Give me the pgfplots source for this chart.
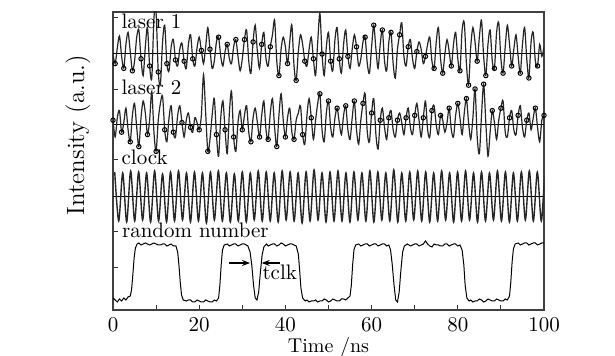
\documentclass[border=0pt]{standalone}
\usepackage{pgfplots}
\pgfplotsset{compat=1.18}
\usetikzlibrary{arrows.meta}
\newcommand{\fs}{\fontsize{10.5}{12.6}\selectfont}
\begin{document}
\begin{tikzpicture}
\useasboundingbox (-56.5pt,-23pt) rectangle (251pt,155pt);
\begin{axis}[
  scale only axis, width=215.5pt, height=149pt,
  xmin=0, xmax=100, ymin=0, ymax=298,
  axis line style={black!75, line width=0.8pt},
  tick align=inside, tick pos=left,
  xtick={0,20,...,100}, minor xtick={10,30,...,90},
  ytick={42,78,150,220,292}, yticklabels={},
  major tick length=2.5pt, minor tick length=2.5pt,
  tick style={black!80, line width=0.5pt},
  /pgf/number format/assume math mode=true,
  tick label style={font=\fs},
  xlabel={Time /ns}, ylabel={Intensity (a.u.)},
  xlabel style={font=\fontsize{10}{12}\selectfont, at={(axis description cs:0.5,-0.068)}, anchor=north},
  ylabel style={font=\fontsize{12.5}{15}\selectfont, at={(axis description cs:-0.036,0.587)}, anchor=south},
  clip=true,
]
% baselines
\addplot[black, line width=0.5pt] coordinates {(0,256)(100,256)};
\addplot[black, line width=0.5pt] coordinates {(0,185)(100,185)};
\addplot[black, line width=0.5pt] coordinates {(0,113)(100,113)};
% laser 1
\addplot[black!85, line width=0.6pt, smooth, mark=o, mark size=1.1pt, mark repeat=4, mark phase=2,
  mark options={black, line width=0.5pt, fill=white}]
  table[header=false, row sep=\\, x expr=\coordindex*0.5, y expr=1.2*\thisrowno{0}+256] {
0\\ -8\\ 5\\ 15\\ -2\\ -12\\ 8\\ 18\\ 2\\ -14\\
-6\\ 14\\ 20\\ -4\\ -18\\ 6\\ 22\\ -10\\ -20\\ 30\\
34\\ -15\\ -25\\ 10\\ 24\\ -8\\ -14\\ 6\\ 12\\ -5\\
-10\\ 4\\ 9\\ -6\\ -12\\ 8\\ 16\\ -4\\ -10\\ 5\\
14\\ 3\\ -8\\ 6\\ 22\\ 4\\ -12\\ -6\\ 10\\ 14\\
-2\\ -10\\ 2\\ 8\\ -4\\ -8\\ 6\\ 12\\ -2\\ -14\\
-4\\ 12\\ 20\\ -6\\ -16\\ 10\\ 24\\ 2\\ -12\\ 8\\
18\\ -4\\ -10\\ 6\\ 16\\ 28\\ -6\\ -18\\ 4\\ 14\\
6\\ -8\\ 10\\ 24\\ -10\\ -22\\ 2\\ 16\\ 8\\ -6\\
-10\\ 4\\ 14\\ -4\\ -18\\ 10\\ 34\\ 0\\ -18\\ 6\\
18\\ -6\\ -14\\ 12\\ 22\\ -4\\ -16\\ 8\\ 20\\ -2\\
-12\\ 4\\ 16\\ 6\\ -10\\ -4\\ 10\\ 14\\ -8\\ -16\\
6\\ 24\\ 4\\ -12\\ 8\\ 20\\ -6\\ -14\\ 10\\ 18\\
-8\\ -20\\ 4\\ 16\\ 26\\ -2\\ -10\\ 6\\ 12\\ -4\\
-12\\ 2\\ 10\\ 4\\ -8\\ -2\\ 8\\ 14\\ -6\\ -12\\
10\\ 22\\ -4\\ -16\\ 0\\ 12\\ 2\\ -10\\ 8\\ 18\\
-4\\ -14\\ 20\\ 26\\ -8\\ -26\\ 6\\ 22\\ 10\\ -6\\
14\\ 28\\ -2\\ -18\\ 8\\ 20\\ -6\\ -12\\ 18\\ 26\\
-4\\ -16\\ 6\\ 24\\ 8\\ -10\\ 4\\ 16\\ -2\\ -16\\
8\\ 22\\ -4\\ -20\\ 10\\ 18\\ -6\\ -10\\ 8\\ -2\\
6\\
};
% laser 2
\addplot[black!85, line width=0.6pt, smooth, mark=o, mark size=1.1pt, mark repeat=4, mark phase=1,
  mark options={black, line width=0.5pt, fill=white}]
  table[header=false, row sep=\\, x expr=\coordindex*0.5, y expr=1.2*\thisrowno{0}+185] {
4\\ -10\\ 6\\ 12\\ -6\\ 2\\ 14\\ -4\\ -14\\ 8\\
18\\ -2\\ -18\\ 6\\ 20\\ 10\\ -8\\ 4\\ 28\\ -6\\
-22\\ 4\\ 18\\ 24\\ -4\\ -14\\ 6\\ 16\\ -6\\ -10\\
8\\ 16\\ 2\\ -10\\ 4\\ 10\\ -2\\ -6\\ 6\\ 2\\
-4\\ 8\\ 42\\ 10\\ -22\\ -12\\ 8\\ 22\\ -8\\ -26\\
6\\ 20\\ -4\\ -24\\ 10\\ 28\\ -10\\ -22\\ 2\\ 12\\
-4\\ 8\\ 16\\ -6\\ -14\\ 6\\ 14\\ 2\\ -10\\ 8\\
20\\ -4\\ -12\\ 10\\ 22\\ -2\\ -18\\ 8\\ 26\\ 4\\
-10\\ 6\\ 14\\ -6\\ -12\\ 4\\ 10\\ 16\\ -8\\ -16\\
8\\ 22\\ 6\\ -12\\ 4\\ 18\\ 26\\ -4\\ -14\\ 10\\
20\\ -2\\ -10\\ 6\\ 14\\ 2\\ -8\\ 8\\ 16\\ -4\\
-12\\ 6\\ 20\\ -4\\ -16\\ 4\\ 18\\ 26\\ -6\\ -14\\
10\\ 22\\ -8\\ -20\\ 4\\ 14\\ -2\\ -12\\ 6\\ 12\\
-4\\ -10\\ 4\\ 10\\ 2\\ -8\\ 6\\ 14\\ -2\\ -8\\
8\\ 18\\ 4\\ -10\\ 6\\ 20\\ -4\\ -10\\ 12\\ 16\\
0\\ -8\\ 8\\ 4\\ -6\\ 2\\ 14\\ -4\\ -10\\ 8\\
18\\ 6\\ -8\\ 10\\ 22\\ 2\\ -12\\ 6\\ 30\\ -10\\
-24\\ 8\\ 34\\ 2\\ -26\\ -6\\ 12\\ 2\\ -12\\ 4\\
14\\ 20\\ -6\\ -10\\ 6\\ 12\\ -4\\ -8\\ 8\\ 16\\
-2\\ -10\\ 4\\ 10\\ -4\\ 6\\ 14\\ -2\\ -14\\ 4\\
8\\
};
% clock
\addplot[black!85, line width=0.7pt, smooth]
  table[header=false, row sep=\\, x expr=0.4+\coordindex*0.925, y expr=\thisrowno{0}+113] {
25\\ -24\\ 24\\ -25\\ 26\\ -24\\ 25\\ -23\\ 24\\ -25\\
26\\ -24\\ 23\\ -25\\ 25\\ -24\\ 26\\ -23\\ 24\\ -25\\
25\\ -24\\ 24\\ -26\\ 25\\ -23\\ 26\\ -24\\ 24\\ -25\\
23\\ -24\\ 25\\ -25\\ 24\\ -23\\ 26\\ -24\\ 25\\ -24\\
24\\ -25\\ 26\\ -23\\ 25\\ -24\\ 24\\ -26\\ 25\\ -24\\
27\\ -23\\ 24\\ -25\\ 25\\ -24\\ 26\\ -24\\ 24\\ -25\\
25\\ -23\\ 24\\ -24\\ 26\\ -25\\ 25\\ -23\\ 24\\ -24\\
27\\ -25\\ 24\\ -24\\ 25\\ -23\\ 26\\ -24\\ 25\\ -25\\
24\\ -24\\ 26\\ -23\\ 24\\ -25\\ 25\\ -24\\ 26\\ -23\\
24\\ -25\\ 25\\ -24\\ 24\\ -23\\ 26\\ -24\\ 25\\ -25\\
24\\ -24\\ 25\\ -23\\ 26\\ -24\\ 25\\ -24\\ 24\\ -25\\
};
% random number
\addplot[black, line width=0.5pt] coordinates {
(0,12)(0.5,10)(1,8)(1.5,11)(2,9)(2.5,12)(3,10)(3.5,13)(4,14)(4.3,20)(4.6,35)(4.9,52)(5.2,62)(5.6,66)
(6,67)(6.5,65)(7,66)(7.5,67)(8,66)(8.5,65)(9,66)(9.5,67)(10,66)(10.5,65)(11,65)(11.5,66)(12,66)(12.5,64)(13,65)(13.5,66)(14,64)(14.6,64)
(15,58)(15.3,45)(15.6,28)(15.9,15)(16.3,10)(17,9)(17.5,10)(18,10)(18.5,8)(19,8)(19.5,10)(20,9)(20.5,8)(21,8)(21.5,10)(22,9)(22.5,8)(23,8)(23.5,10)(24,9)
(24.5,12)(24.8,25)(25.1,45)(25.4,60)(25.8,65)(26.5,66)(27,64)(27.5,65)(28,66)(28.5,66)(29,64)(29.5,65)(30,66)(30.5,66)(31.3,64)
(31.8,58)(32.2,45)(32.6,25)(33,12)(33.4,10)(33.8,18)(34.2,38)(34.6,55)(35,63)(35.6,66)(36,64)(36.5,65)(37,66)(37.5,66)(38,64)(38.5,65)(39,67)(39.5,66)(40,64)(40.5,65)(41,66)(41.5,66)(42,65)(42.5,64)
(43,56)(43.3,40)(43.6,22)(44,12)(44.6,9)(45,10)(45.5,8)(46,9)(46.5,9)(47,10)(47.5,8)(48,9)(48.5,9)(49,11)(49.5,10)(50,8)(50.5,9)(51,11)(51.5,10)(52,9)(52.5,9)(53,11)(53.5,11)(54,10)(54.5,12)
(55,14)(55.3,25)(55.6,45)(55.9,60)(56.3,65)(57,66)(57.5,64)(58,65)(58.5,66)(59,66)(59.5,64)(60,65)(60.5,66)(61,66)(61.5,64)(62,65)(62.5,66)(63,66)(63.5,64)(64,65)
(64.4,60)(64.8,45)(65.2,25)(65.6,10)(66,8)(66.4,18)(66.8,40)(67.2,58)(67.6,64)(68.3,66)(69,64)(69.5,65)(70,66)(70.5,66)(71,64)(71.5,65)(72,66)(72.5,69)(73,66)(73.5,64)(74,63)(74.5,66)(75,65)(75.5,65)(76,64)(76.5,64)(77,66)(77.5,66)(78,64)(78.5,65)(79,66)(79.5,66)(80,64)(80.5,65)
(81,60)(81.4,45)(81.7,25)(82.1,12)(82.6,9)(83,10)(83.5,8)(84,9)(84.5,9)(85,11)(85.5,10)(86,8)(86.5,9)(87,11)(87.5,10)(88,9)(88.5,9)(89,11)(89.5,10)(90,9)(90.5,9)(91,11)(91.5,10)
(92,14)(92.3,28)(92.6,48)(92.9,61)(93.3,66)(94,67)(94.5,65)(95,66)(95.5,67)(96,67)(96.5,65)(97,66)(97.5,67)(98,67)(98.5,65)(99,66)(99.5,67)(100,67)
};
% labels
\node[anchor=base west, inner sep=0pt, font=\fs] at (axis cs:1.9,281) {laser 1};
\node[anchor=base west, inner sep=0pt, font=\fs] at (axis cs:1.9,215) {laser 2};
\node[anchor=base west, inner sep=0pt, font=\fs] at (axis cs:1.9,145) {clock};
\node[anchor=base west, inner sep=0pt, font=\fs] at (axis cs:2.0,72) {random number};
\draw[black, line width=0.6pt, -{Stealth[length=4pt,width=3pt]}] (axis cs:27,47) -- (axis cs:31.8,47);
\draw[black, line width=0.6pt, -{Stealth[length=4pt,width=3pt]}] (axis cs:38.7,47) -- (axis cs:34.5,47);
\node[anchor=base west, inner sep=0pt, font=\fs] at (axis cs:34.6,30) {tclk};
\end{axis}
\end{tikzpicture}
\end{document}
